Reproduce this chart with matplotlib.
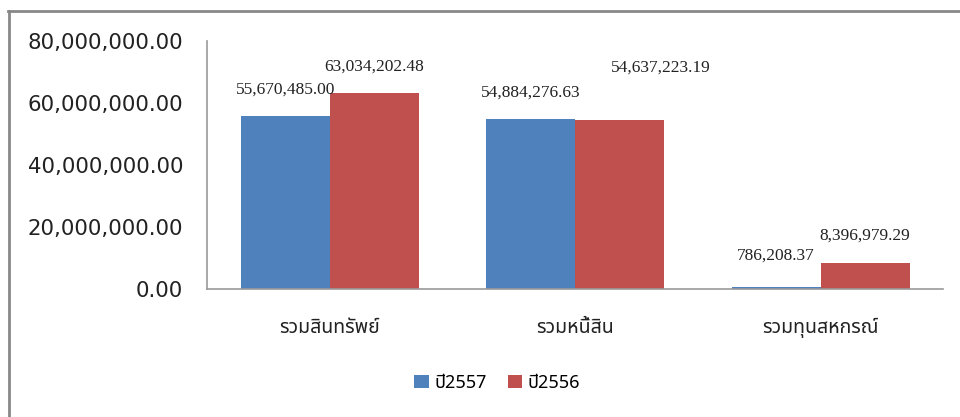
import numpy as np
import matplotlib
matplotlib.use("Agg")
from matplotlib import pyplot as plt
from matplotlib.lines import Line2D

categories = ["รวมสินทรัพย์", "รวมหนี้สิน", "รวมทุนสหกรณ์"]
series_names = ["ปี2557", "ปี2556"]
values_2557 = [55670485.00, 54884276.63, 786208.37]
values_2556 = [63034202.48, 54637223.19, 8396979.29]
y_ticks = [0, 20000000, 40000000, 60000000, 80000000]

# ระยะเลื่อนของป้ายข้อมูล (จุด) ตามภาพต้นฉบับ
offsets_2557 = [(0, 19), (0, 19), (0, 22)]
offsets_2556 = [(0, 19), (30, 37), (0, 20)]

blue = "#4f81bd"
red = "#c0504d"
thai_font = ["Noto Sans Thai", "Loma", "Garuda", "Tahoma", "DejaVu Sans"]

fig = plt.figure(figsize=(9.6, 4.17), dpi=100)
ax = fig.add_axes([0.2156, 0.307, 0.767, 0.595])

x = np.arange(len(categories))
w = 0.3625
b1 = ax.bar(x - w / 2, values_2557, w, color=blue, label=series_names[0])
b2 = ax.bar(x + w / 2, values_2556, w, color=red, label=series_names[1])

for bars, vals, offs in [(b1, values_2557, offsets_2557), (b2, values_2556, offsets_2556)]:
    for bar, v, off in zip(bars, vals, offs):
        ax.annotate(f"{v:,.2f}", (bar.get_x() + bar.get_width() / 2, bar.get_height()),
                    xytext=off, textcoords="offset points", ha="center", va="center",
                    fontsize=12.5, family="Liberation Serif", color="#222222")

ax.set_xlim(-0.5, 2.5)
ax.set_ylim(0, 80000000)
ax.set_yticks(y_ticks)
ax.set_yticklabels([f"{t:,.2f}" for t in y_ticks], fontsize=15.3, color="#222222")
ax.set_xticks(x)
ax.set_xticklabels(categories, family=thai_font, fontsize=14, color="#222222")
ax.tick_params(axis="both", length=0)
ax.tick_params(axis="y", pad=17)
ax.tick_params(axis="x", pad=21)

for s in ["top", "right"]:
    ax.spines[s].set_visible(False)
for s in ["left", "bottom"]:
    ax.spines[s].set_color("#999999")
    ax.spines[s].set_linewidth(1.2)

leg = fig.legend(handles=[b1, b2], labels=series_names, loc="center",
                 bbox_to_anchor=(0.518, 0.082), ncol=2, frameon=False,
                 prop={"family": thai_font, "size": 13}, handlelength=0.8,
                 handleheight=0.8, handletextpad=0.3, columnspacing=1.2)

# กรอบภาพสีเทา
fig.add_artist(Line2D([0.0088, 1.0], [0.974, 0.974], color="#888888", lw=2, transform=fig.transFigure))
fig.add_artist(Line2D([0.0098, 0.0098], [0.0, 0.974], color="#888888", lw=2, transform=fig.transFigure))

fig.savefig("out.png", dpi=100, facecolor="white")
